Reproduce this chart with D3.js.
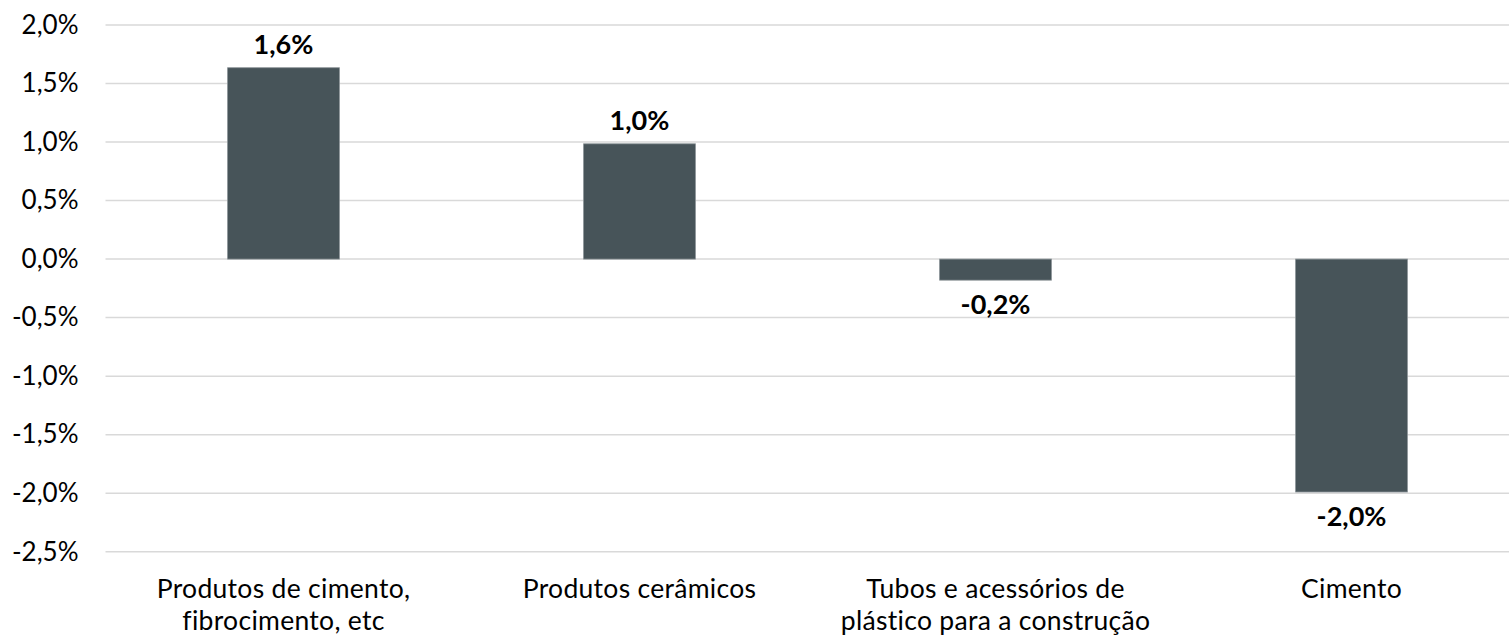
<!DOCTYPE html>
<html>
<head>
<meta charset="utf-8">
<script src="https://cdn.jsdelivr.net/npm/d3@7"></script>
<style>
  html, body { margin: 0; padding: 0; background: #fff; }
  svg { display: block; font-family: Lato, "Open Sans", sans-serif; }
</style>
</head>
<body>
<svg id="chart" width="1509" height="639"></svg>
<script>
// Variação por categoria de produto (%)
const categories = [
  ["Produtos de cimento,", "fibrocimento, etc"],
  ["Produtos cerâmicos"],
  ["Tubos e acessórios de", "plástico para a construção"],
  ["Cimento"]
];
const values = [1.635, 0.985, -0.18, -1.99];
const yTicks = [2.0, 1.5, 1.0, 0.5, 0.0, -0.5, -1.0, -1.5, -2.0, -2.5];

const svg = d3.select("#chart");
const margin = { left: 105.5, right: -20.5, top: 25, bottom: 87.3 };
const W = 1509, H = 639;

const x = d3.scaleBand()
  .domain(d3.range(categories.length))
  .range([margin.left, W - margin.right])
  .paddingInner(0.686)
  .paddingOuter(0.343);

const y = d3.scaleLinear()
  .domain([-2.5, 2.0])
  .range([H - margin.bottom, margin.top]);

// percent with comma decimal and plain hyphen for negatives
const fmt = v => d3.format(".1f")(v).replace("−", "-").replace(".", ",") + "%";

// horizontal gridlines
svg.append("g")
  .selectAll("line")
  .data(yTicks)
  .join("line")
  .attr("x1", margin.left)
  .attr("x2", W - margin.right)
  .attr("y1", d => y(d))
  .attr("y2", d => y(d))
  .attr("stroke", "#d9d9d9")
  .attr("stroke-width", 1.5);

// y axis labels
const yAxis = d3.axisLeft(y).tickValues(yTicks).tickFormat(fmt).tickSize(0).tickPadding(27);
const gy = svg.append("g").attr("transform", `translate(${margin.left},0)`).call(yAxis);
gy.select(".domain").remove();
gy.selectAll("text")
  .attr("font-family", "Lato, sans-serif")
  .attr("font-size", 26)
  .attr("fill", "#000");

// bars
svg.append("g")
  .selectAll("rect")
  .data(values)
  .join("rect")
  .attr("x", (d, i) => x(i))
  .attr("width", x.bandwidth())
  .attr("y", d => y(Math.max(0, d)))
  .attr("height", d => Math.abs(y(d) - y(0)))
  .attr("fill", "#475459")
  .attr("stroke", "#8a9296")
  .attr("stroke-width", 0.8);

// value labels
svg.append("g")
  .selectAll("text")
  .data(values)
  .join("text")
  .attr("x", (d, i) => x(i) + x.bandwidth() / 2)
  .attr("y", d => d >= 0 ? y(d) - 14 : y(d) + 34)
  .attr("text-anchor", "middle")
  .attr("font-size", 27)
  .attr("font-weight", "bold")
  .attr("fill", "#000")
  .text(d => fmt(d));

// category labels, one text per line
const catG = svg.append("g")
  .selectAll("g")
  .data(categories)
  .join("g")
  .attr("transform", (d, i) => `translate(${x(i) + x.bandwidth() / 2},0)`);
catG.selectAll("text")
  .data(d => d)
  .join("text")
  .attr("x", 0)
  .attr("y", (d, i) => 598 + i * 32)
  .attr("text-anchor", "middle")
  .attr("font-size", 26.5)
  .attr("letter-spacing", 0.3)
  .attr("fill", "#000")
  .text(d => d);
</script>
</body>
</html>
